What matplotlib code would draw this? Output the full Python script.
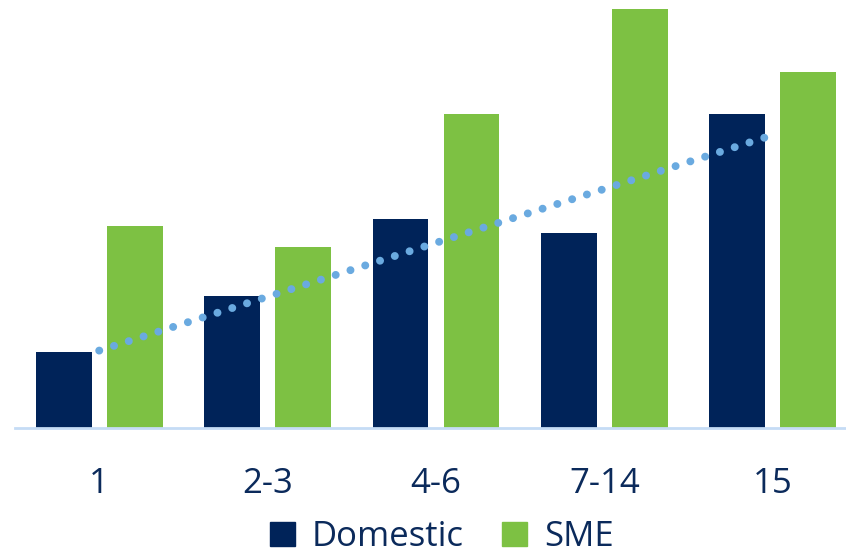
import numpy as np
import matplotlib.pyplot as plt
from matplotlib.patches import Patch

# valeurs
categories = ['1', '2-3', '4-6', '7-14', '15']
domestic = [76, 132, 209, 195, 314]
sme = [202, 181, 314, 419, 356]

navy = '#002359'
green = '#7DC143'
dots = '#6AAAE0'
text_color = '#0B2A5B'

plt.rcParams['font.family'] = ['Open Sans', 'DejaVu Sans']

fig = plt.figure(figsize=(8.46, 5.53), dpi=100)
# l'axe déborde un peu à droite, comme dans l'original
ax = fig.add_axes([15 / 846, 1 - 428 / 553, 842 / 846, 428 / 553])

x = np.arange(len(categories))
w = 0.332
ax.bar(x - 0.211, domestic, w, color=navy, label='Domestic')
ax.bar(x + 0.211, sme, w, color=green, label='SME')

# tendance linéaire sur Domestic
coef = np.polyfit(x, domestic, 1)
ax.plot(x, np.polyval(coef, x), linestyle=(0, (0.01, 1.95)), color=dots,
        linewidth=5.7, dash_capstyle='round', solid_capstyle='round')

ax.set_xlim(-0.5, 4.5)
ax.set_ylim(0, 428)
for s in ['top', 'right', 'left']:
    ax.spines[s].set_visible(False)
ax.spines['bottom'].set_color('#C5DCF5')
ax.spines['bottom'].set_linewidth(2)
ax.set_yticks([])
ax.set_xticks(x)
ax.set_xticklabels(categories, fontsize=25, color=text_color)
ax.tick_params(axis='x', length=0, pad=28)

handles = [Patch(color=navy, label='Domestic'), Patch(color=green, label='SME')]
fig.legend(handles=handles, loc='center', bbox_to_anchor=(442 / 846, 1 - 537 / 553),
           ncol=2, frameon=False, fontsize=25, labelcolor=text_color,
           handlelength=0.7, handleheight=0.7, handletextpad=0.5,
           columnspacing=1.1)

fig.savefig('out.png', dpi=100)
